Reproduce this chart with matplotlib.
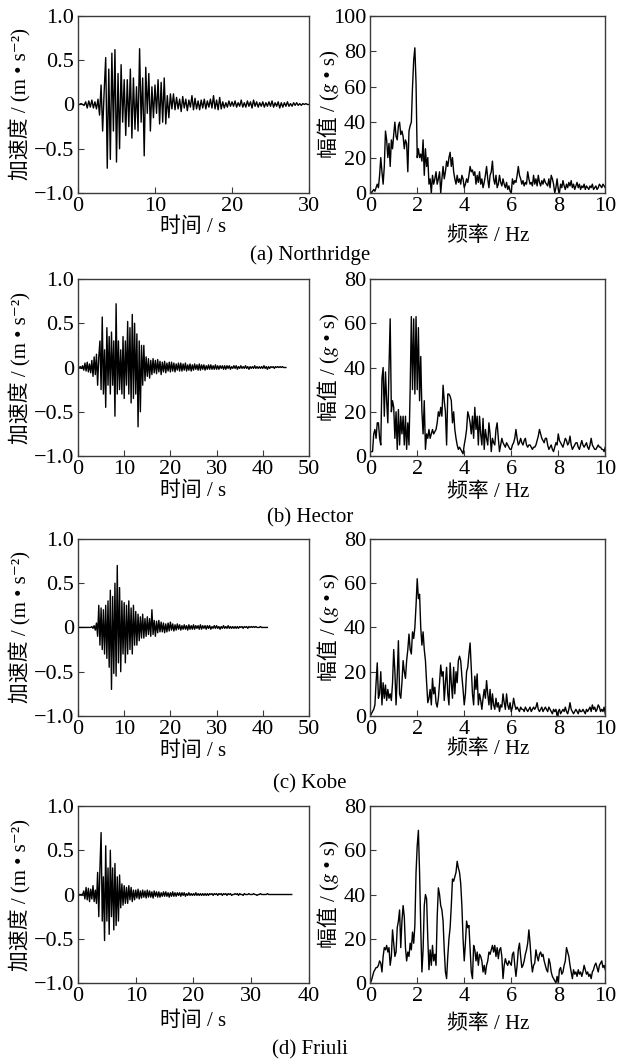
import numpy as np
import matplotlib
matplotlib.use("Agg")
import matplotlib.pyplot as plt

plt.rcParams["font.family"] = ["Liberation Serif", "Noto Sans CJK SC", "STIXGeneral", "DejaVu Serif"]
plt.rcParams["axes.unicode_minus"] = True

# ---- acceleration records (uniform sampling) ----
northridge_dt = 0.2
northridge_acc = [
    0, 0, 0.01, 0, -0.01, 0.03, -0.04, 0.04, -0.03, 0.05,
    -0.04, 0.03, -0.05, 0.06, -0.12, 0.22, -0.3, 0.15, 0.53, -0.72,
    0.4, -0.62, 0.58, -0.3, 0.62, -0.65, 0.35, -0.5, 0.45, -0.2,
    0.28, -0.35, 0.28, -0.25, 0.4, -0.38, 0.3, -0.28, 0.2, -0.3,
    0.63, -0.2, 0.3, -0.58, 0.42, -0.1, 0.35, -0.3, 0.2, -0.15,
    0.22, -0.1, 0.28, -0.22, 0.25, -0.2, 0.3, -0.22, 0.1, -0.15,
    0.12, -0.05, 0.12, -0.06, 0.08, -0.05, 0.06, -0.08, 0.09, -0.04,
    0.06, -0.07, 0.05, -0.03, 0.1, -0.06, 0.07, -0.05, 0.04, -0.06,
    0.05, -0.04, 0.06, -0.05, 0.04, -0.03, 0.06, -0.04, 0.1, -0.05,
    0.05, -0.06, 0.08, -0.05, 0.03, -0.04, 0.02, -0.03, 0.04, -0.02,
    0.03, -0.02, 0.04, -0.03, 0.02, -0.02, 0.05, -0.03, 0.02, -0.03,
    0.04, -0.02, 0.03, -0.04, 0.05, -0.02, 0.03, -0.03, 0.02, -0.02,
    0.03, -0.03, 0.02, -0.02, 0.03, -0.02, 0.04, -0.03, 0.02, -0.02,
    0.03, -0.04, 0.02, -0.03, 0.02, -0.02, 0.03, -0.02, 0.01, -0.02,
    0.02, -0.01, 0.02, -0.01, 0.01, -0.01, 0.01, 0, 0.01, 0,
    0,
]

hector_dt = 0.25
hector_acc = [
    0, 0, 0.01, -0.01, 0.02, -0.03, 0.05, -0.04,
    0.06, -0.05, 0.04, -0.06, 0.08, -0.1, 0.12, -0.08,
    0.15, -0.2, 0.12, 0.3, -0.25, 0.57, -0.3, 0.2,
    -0.45, 0.45, -0.2, 0.35, -0.3, 0.4, -0.2, 0.3,
    -0.55, 0.72, -0.3, 0.3, -0.25, 0.2, -0.3, 0.35,
    -0.35, 0.3, -0.2, 0.52, -0.3, 0.45, -0.4, 0.6,
    -0.35, 0.5, -0.3, 0.38, -0.67, 0.3, -0.5, 0.25,
    -0.2, 0.25, -0.15, 0.12, -0.1, 0.1, -0.12, 0.08,
    -0.08, 0.1, -0.06, 0.08, -0.07, 0.09, -0.05, 0.07,
    -0.08, 0.06, -0.05, 0.07, -0.06, 0.05, -0.04, 0.06,
    -0.05, 0.06, -0.04, 0.05, -0.05, 0.04, -0.03, 0.05,
    -0.04, 0.05, -0.04, 0.04, -0.03, 0.05, -0.04, 0.03,
    -0.03, 0.04, -0.04, 0.03, -0.03, 0.04, -0.02, 0.03,
    -0.03, 0.04, -0.03, 0.03, -0.02, 0.03, -0.03, 0.02,
    -0.02, 0.03, -0.02, 0.03, -0.02, 0.02, -0.02, 0.03,
    -0.02, 0.02, -0.02, 0.02, -0.01, 0.02, -0.02, 0.02,
    -0.02, 0.02, -0.01, 0.02, -0.02, 0.01, -0.01, 0.02,
    -0.01, 0.02, -0.02, 0.01, -0.01, 0.02, -0.01, 0.01,
    -0.01, 0.02, -0.01, 0.01, -0.02, 0.01, -0.01, 0.01,
    -0.01, 0.02, -0.01, 0.01, -0.01, 0.01, -0.01, 0.01,
    -0.01, 0.02, -0.01, 0.01, -0.02, 0.01, -0.01, 0.01,
    0, 0.01, -0.01, 0.01, 0, 0.01, 0, 0.01,
    0, 0.01, 0, 0,
    0,
]

kobe_dt = 0.25
kobe_acc = [
    0, 0, 0, 0, 0, 0, 0, 0,
    0, 0, 0, 0, 0.01, -0.01, 0.02, -0.03,
    0.05, -0.1, 0.25, -0.2, 0.22, -0.25, 0.2, -0.3,
    0.25, -0.35, 0.3, -0.45, 0.42, -0.7, 0.35, -0.52,
    0.5, -0.55, 0.7, -0.4, 0.45, -0.5, 0.3, -0.3,
    0.28, -0.4, 0.25, -0.3, 0.3, -0.25, 0.22, -0.3,
    0.25, -0.2, 0.18, -0.2, 0.15, -0.15, 0.12, -0.12,
    0.15, -0.12, 0.1, -0.1, 0.12, -0.08, 0.1, -0.1,
    0.2, -0.08, 0.08, -0.1, 0.07, -0.06, 0.08, -0.05,
    0.06, -0.05, 0.05, -0.06, 0.04, -0.05, 0.05, -0.04,
    0.06, -0.03, 0.04, -0.04, 0.03, -0.03, 0.04, -0.02,
    0.03, -0.03, 0.02, -0.02, 0.03, -0.02, 0.02, -0.03,
    0.03, -0.02, 0.02, -0.02, 0.03, -0.02, 0.02, -0.01,
    0.02, -0.02, 0.03, -0.02, 0.02, -0.01, 0.02, -0.02,
    0.02, -0.01, 0.02, -0.02, 0.01, -0.01, 0.02, -0.01,
    0.02, -0.01, 0.01, -0.02, 0.01, -0.01, 0.02, -0.01,
    0.01, -0.01, 0.02, -0.01, 0.01, -0.01, 0.01, -0.01,
    0.01, -0.01, 0.01, -0.01, 0.01, 0, 0.01, -0.01,
    0.01, 0, 0.01, -0.01, 0.01, 0, 0.01, 0,
    0.01, 0, 0.01, 0, 0, 0, 0.01, 0,
    0, 0, 0, 0,
    0,
]

friuli_dt = 0.2
friuli_acc = [
    0, 0, 0, 0, 0, 0.04, -0.05, 0.08, -0.06, 0.07,
    -0.08, 0.06, -0.05, 0.1, -0.08, 0.05, -0.1, 0.25, -0.25, 0.3,
    0.7, -0.3, 0.2, -0.52, 0.55, -0.3, 0.3, -0.45, 0.5, -0.25,
    0.3, -0.4, 0.35, -0.35, 0.2, -0.3, 0.22, -0.15, 0.12, -0.12,
    0.1, -0.1, 0.08, -0.1, 0.1, -0.06, 0.08, -0.08, 0.05, -0.06,
    0.05, -0.04, 0.06, -0.05, 0.04, -0.04, 0.05, -0.03, 0.04, -0.04,
    0.05, -0.03, 0.04, -0.03, 0.03, -0.04, 0.04, -0.02, 0.03, -0.03,
    0.03, -0.03, 0.02, -0.02, 0.03, -0.02, 0.03, -0.02, 0.02, -0.03,
    0.02, -0.02, 0.03, -0.02, 0.02, -0.02, 0.02, -0.01, 0.02, -0.02,
    0.02, -0.01, 0.02, -0.02, 0.01, -0.01, 0.02, -0.01, 0.01, -0.01,
    0.01, -0.01, 0.02, -0.01, 0.01, -0.01, 0.01, -0.01, 0.01, -0.01,
    0.01, -0.01, 0.01, -0.01, 0.01, 0, 0.01, -0.01, 0.01, 0,
    0.01, -0.01, 0.01, 0, 0.01, -0.01, 0.01, 0, 0.01, -0.01,
    0.01, 0, 0.01, -0.01, 0, 0, 0.01, 0, 0.01, -0.01,
    0.01, 0, 0, -0.01, 0.01, 0, 0, 0, 0.01, 0,
    0, 0, 0.01, 0, 0, -0.01, 0, 0, 0.01, 0,
    0, 0, 0, 0, 0.01, 0, 0, 0, 0, 0,
    0, 0, 0, 0, 0, 0, 0, 0, 0, 0,
    0, 0, 0, 0, 0, 0,
]

# ---- Fourier amplitude spectra, 0-10 Hz every 0.05 Hz ----
spec_df = 0.05
northridge_amp = [
    1, 0, 1, 2, 1, 3, 5, 3, 10, 20, 12, 5, 15, 35, 30, 20, 28, 15, 30, 25,
    33, 40, 32, 30, 38, 40, 33, 35, 32, 25, 30, 28, 12, 35, 38, 40, 60, 75, 82, 62,
    20, 25, 20, 22, 18, 30, 10, 25, 15, 20, 5, 8, 0, 10, 5, 8, 12, 5, 8, 12,
    0, 8, 15, 8, 12, 18, 15, 20, 23, 15, 20, 12, 8, 5, 10, 6, 8, 5, 10, 8,
    3, 5, 8, 6, 10, 15, 12, 13, 10, 12, 5, 10, 6, 12, 5, 8, 3, 6, 10, 15,
    8, 3, 10, 12, 18, 8, 5, 10, 3, 5, 10, 6, 4, 8, 5, 3, 6, 2, 4, 1,
    0, 8, 5, 7, 6, 10, 15, 10, 8, 5, 7, 4, 6, 5, 12, 8, 5, 6, 4, 10,
    5, 8, 4, 10, 6, 4, 7, 5, 8, 6, 5, 4, 8, 3, 10, 8, 5, 0, 3, 8,
    2, 0, 5, 3, 7, 4, 2, 5, 3, 6, 4, 7, 3, 5, 2, 4, 6, 3, 5, 2,
    4, 3, 5, 2, 4, 3, 2, 4, 3, 5, 2, 3, 4, 2, 3, 5, 4, 3, 5, 4,
    3,
]
hector_amp = [
    2, 2, 2, 10, 12, 8, 15, 15, 8, 5, 35, 40, 18, 38, 25, 15, 40, 62, 20, 25,
    22, 8, 20, 3, 21, 5, 18, 10, 18, 5, 18, 3, 15, 5, 30, 63, 30, 62, 28, 63,
    30, 58, 25, 45, 20, 10, 25, 3, 10, 8, 12, 8, 10, 12, 10, 11, 12, 15, 20, 18,
    22, 18, 32, 25, 20, 5, 28, 28, 27, 25, 15, 20, 12, 8, 5, 3, 4, 3, 2, 1,
    5, 8, 12, 20, 18, 15, 10, 18, 8, 22, 12, 18, 5, 18, 10, 5, 17, 3, 12, 8,
    5, 15, 10, 2, 8, 6, 5, 12, 15, 8, 2, 5, 8, 6, 5, 4, 6, 5, 4, 3,
    3, 5, 6, 8, 12, 8, 5, 6, 8, 6, 5, 7, 8, 5, 4, 5, 5, 4, 3, 4,
    4, 5, 7, 9, 12, 10, 8, 7, 6, 8, 8, 5, 3, 4, 5, 3, 2, 4, 6, 5,
    10, 7, 6, 5, 4, 6, 8, 7, 5, 6, 9, 5, 3, 4, 5, 6, 6, 4, 3, 5,
    7, 5, 4, 5, 6, 4, 3, 5, 8, 5, 4, 3, 3, 4, 5, 4, 4, 3, 3, 2,
    4,
]
kobe_amp = [
    0, 1, 2, 3, 5, 15, 24, 8, 10, 20, 5, 15, 8, 14, 7, 12, 8, 10, 7, 15,
    30, 20, 5, 18, 34, 10, 8, 15, 25, 20, 17, 25, 30, 37, 30, 28, 38, 35, 40, 50,
    62, 53, 55, 40, 32, 38, 30, 25, 15, 6, 8, 12, 5, 17, 10, 13, 6, 4, 8, 15,
    23, 18, 20, 7, 15, 22, 10, 5, 24, 15, 8, 22, 10, 20, 15, 25, 27, 25, 18, 12,
    5, 10, 20, 22, 28, 33, 22, 10, 5, 18, 12, 19, 5, 10, 7, 3, 8, 12, 8, 16,
    10, 5, 12, 3, 10, 5, 3, 8, 4, 6, 2, 5, 4, 10, 6, 3, 10, 5, 3, 6,
    2, 4, 8, 5, 3, 4, 3, 2, 4, 3, 3, 2, 4, 3, 2, 3, 4, 2, 3, 4,
    3, 4, 6, 3, 2, 3, 4, 2, 3, 4, 3, 2, 4, 3, 2, 1, 3, 2, 3, 0,
    2, 3, 1, 2, 3, 2, 4, 2, 1, 3, 6, 3, 2, 1, 2, 3, 2, 1, 3, 2,
    2, 3, 2, 1, 3, 2, 3, 4, 2, 5, 3, 4, 2, 3, 5, 4, 2, 3, 2, 4,
    1,
]
friuli_amp = [
    0, 1, 3, 5, 6, 7, 7, 8, 10, 9, 5, 12, 16, 15, 17, 14, 16, 8, 12, 24,
    18, 12, 14, 25, 28, 33, 16, 28, 35, 30, 16, 10, 14, 12, 18, 15, 23, 18, 26, 50,
    62, 69, 50, 25, 5, 15, 35, 40, 38, 20, 6, 15, 8, 17, 10, 13, 8, 30, 43, 40,
    35, 33, 28, 15, 5, 2, 12, 20, 25, 35, 47, 46, 48, 50, 55, 52, 50, 45, 35, 20,
    10, 18, 28, 25, 26, 15, 5, 2, 17, 15, 10, 14, 8, 13, 12, 10, 5, 8, 4, 8,
    10, 14, 13, 15, 17, 14, 17, 12, 16, 11, 15, 16, 12, 2, 8, 11, 9, 8, 10, 9,
    8, 13, 14, 8, 3, 8, 15, 18, 12, 7, 8, 10, 13, 15, 18, 24, 18, 10, 5, 8,
    9, 15, 12, 10, 13, 14, 12, 13, 10, 8, 6, 5, 11, 9, 5, 3, 2, 1, 0, 3,
    0, 6, 7, 4, 5, 8, 10, 16, 14, 12, 8, 5, 2, 6, 4, 5, 3, 6, 4, 5,
    3, 5, 8, 6, 4, 5, 3, 4, 2, 5, 6, 8, 9, 7, 5, 8, 9, 10, 7, 8,
    6,
]

captions = ["(a) Northridge", "(b) Hector", "(c) Kobe", "(d) Friuli"]
acc_records = [(northridge_dt, northridge_acc), (hector_dt, hector_acc),
               (kobe_dt, kobe_acc), (friuli_dt, friuli_acc)]
amp_records = [northridge_amp, hector_amp, kobe_amp, friuli_amp]
time_max = [30, 50, 50, 40]
amp_max = [100, 80, 80, 80]

tick_size = 16
label_size = 15
spine_color = "#3a3a3a"

fig = plt.figure(figsize=(6.17, 10.64), dpi=100)

row_bottom = [0.8186, 0.5714, 0.3271, 0.0761]
row_height = 0.1664
cap_y = [0.760, 0.513, 0.263, 0.013]
# xlabel offsets (axes fraction) read per panel
left_xlab = [-0.14, -0.145, -0.145, -0.16]
right_xlab = [-0.19, -0.15, -0.135, -0.18]


def style(ax):
    for s in ax.spines.values():
        s.set_color(spine_color)
        s.set_linewidth(1.0)
    ax.tick_params(direction="in", length=4, width=0.8, color=spine_color,
                   labelsize=tick_size, pad=3, top=False, right=False)


for i in range(4):
    dt, acc = acc_records[i]
    t = np.arange(len(acc)) * dt

    ax = fig.add_axes([0.1264, row_bottom[i], 0.3744, row_height])
    ax.plot(t, acc, color="black", lw=1.0)
    ax.set_xlim(0, time_max[i])
    ax.set_ylim(-1.0, 1.0)
    ax.set_xticks(np.arange(0, time_max[i] + 1, 10))
    ax.set_yticks([-1.0, -0.5, 0, 0.5, 1.0])
    ax.set_yticklabels(["\u22121.0", "\u22120.5", "0", "0.5", "1.0"])
    ax.set_xlabel("时间 / s", fontsize=label_size)
    ax.set_ylabel("加速度 / (m • s\u207b\u00b2)", fontsize=label_size)
    ax.xaxis.set_label_coords(0.5, left_xlab[i])
    ax.yaxis.set_label_coords(-0.2, 0.5)
    style(ax)

    amp = amp_records[i]
    f = np.arange(len(amp)) * spec_df
    ax2 = fig.add_axes([0.6, row_bottom[i], 0.381, row_height])
    ax2.plot(f, amp, color="black", lw=1.0)
    ax2.set_xlim(0, 10)
    ax2.set_ylim(0, amp_max[i])
    ax2.set_xticks(np.arange(0, 11, 2))
    ax2.set_yticks(np.arange(0, amp_max[i] + 1, 20))
    ax2.set_xlabel("频率 / Hz", fontsize=label_size)
    ax2.set_ylabel("幅值 / (\U0001d454 • s)", fontsize=label_size)
    ax2.xaxis.set_label_coords(0.5, right_xlab[i])
    ax2.yaxis.set_label_coords(-0.125, 0.5)
    style(ax2)

    fig.text(0.502, cap_y[i], captions[i], ha="center", va="center", fontsize=15)

fig.savefig("out.png", dpi=100)
